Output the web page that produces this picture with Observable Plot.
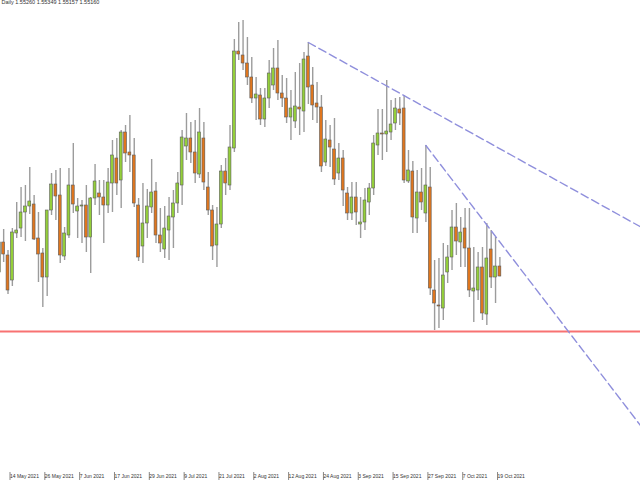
<!DOCTYPE html>
<html><head><meta charset="utf-8">
<script src="https://cdn.jsdelivr.net/npm/d3@7"></script>
<script src="https://cdn.jsdelivr.net/npm/@observablehq/plot@0.6"></script>
<style>
html,body{margin:0;padding:0;background:#fff;}
#chart{position:relative;width:640px;height:480px;overflow:hidden;}
#chart svg{display:block;}
</style></head><body><div id="chart"></div>
<script>
const headerText = "Daily 1.55260 1.55349 1.55157 1.55160";
const firstDay = "2021-05-12";
const open = [1.5520,1.5550,1.5537,1.5512,1.5559,1.5564,1.5580,1.5586,1.5588,1.5554,
1.5539,1.5515,1.5582,1.5608,1.5597,1.5536,1.5557,1.5607,1.5581,1.5586,
1.5587,1.5555,1.5594,1.5599,1.5595,1.5587,1.5609,1.5634,1.5612,1.5660,
1.5640,1.5637,1.5587,1.5546,1.5569,1.5585,1.5601,1.5557,1.5543,1.5562,
1.5575,1.5589,1.5607,1.5646,1.5654,1.5640,1.5618,1.5654,1.5605,1.5582,
1.5547,1.5568,1.5621,1.5607,1.5644,1.5741,1.5737,1.5729,1.5715,1.5694,
1.5697,1.5673,1.5694,1.5707,1.5724,1.5699,1.5694,1.5675,1.5671,1.5685,
1.5681,1.5736,1.5707,1.5689,1.5685,1.5630,1.5652,1.5643,1.5619,1.5634,
1.5599,1.5579,1.5595,1.5568,1.5570,1.5590,1.5604,1.5647,1.5659,1.5658,
1.5660,1.5669,1.5683,1.5684,1.5611,1.5621,1.5574,1.5600,1.5579,1.5605,
1.5502,1.5487,1.5484,1.5520,1.5535,1.5565,1.5550,1.5564,1.5544,1.5501,
1.5502,1.5525,1.5478,1.5543,1.5515,1.55260];
const high = [1.5580,1.5563,1.5542,1.5564,1.5590,1.5605,1.5607,1.5625,1.5597,1.5580,
1.5544,1.5582,1.5619,1.5622,1.5624,1.5565,1.5624,1.5649,1.5594,1.5592,
1.5607,1.5595,1.5628,1.5612,1.5612,1.5624,1.5652,1.5654,1.5662,1.5667,
1.5677,1.5654,1.5594,1.5609,1.5603,1.5633,1.5610,1.5584,1.5586,1.5595,
1.5602,1.5620,1.5662,1.5679,1.5670,1.5672,1.5684,1.5670,1.5620,1.5587,
1.5585,1.5627,1.5634,1.5667,1.5753,1.5770,1.5772,1.5755,1.5735,1.5715,
1.5704,1.5704,1.5732,1.5744,1.5752,1.5717,1.5714,1.5702,1.5720,1.5729,
1.5740,1.5750,1.5725,1.5710,1.5697,1.5672,1.5667,1.5674,1.5649,1.5642,
1.5605,1.5610,1.5610,1.5595,1.5604,1.5609,1.5657,1.5683,1.5683,1.5712,
1.5692,1.5694,1.5695,1.5697,1.5642,1.5631,1.5622,1.5624,1.5647,1.5625,
1.5532,1.5534,1.5549,1.5547,1.5582,1.5589,1.5575,1.5584,1.5584,1.5545,
1.5540,1.5545,1.5569,1.5562,1.5555,1.55349];
const low = [1.5509,1.5530,1.5498,1.5506,1.5554,1.5555,1.5551,1.5578,1.5552,1.5510,
1.5485,1.5496,1.5577,1.5572,1.5529,1.5532,1.5554,1.5579,1.5554,1.5549,
1.5540,1.5519,1.5587,1.5577,1.5549,1.5579,1.5580,1.5597,1.5584,1.5630,
1.5620,1.5585,1.5531,1.5529,1.5554,1.5579,1.5549,1.5540,1.5534,1.5532,
1.5544,1.5579,1.5587,1.5632,1.5629,1.5609,1.5614,1.5602,1.5577,1.5532,
1.5525,1.5564,1.5597,1.5602,1.5640,1.5732,1.5722,1.5707,1.5689,1.5672,
1.5667,1.5665,1.5684,1.5702,1.5692,1.5685,1.5669,1.5652,1.5664,1.5657,
1.5660,1.5688,1.5672,1.5669,1.5620,1.5626,1.5625,1.5607,1.5612,1.5586,
1.5572,1.5572,1.5567,1.5554,1.5562,1.5577,1.5597,1.5637,1.5632,1.5640,
1.5652,1.5662,1.5667,1.5609,1.5609,1.5559,1.5559,1.5582,1.5570,1.5497,
1.5462,1.5464,1.5472,1.5509,1.5522,1.5537,1.5525,1.5525,1.5495,1.5470,
1.5492,1.5472,1.5467,1.5504,1.5489,1.55157];
const close = [1.5550,1.5538,1.5502,1.5560,1.5562,1.5580,1.5586,1.5591,1.5553,1.5538,
1.5515,1.5582,1.5608,1.5596,1.5537,1.5559,1.5607,1.5588,1.5586,1.5587,
1.5555,1.5594,1.5611,1.5595,1.5587,1.5610,1.5637,1.5609,1.5660,1.5639,
1.5637,1.5589,1.5535,1.5569,1.5586,1.5600,1.5557,1.5549,1.5564,1.5576,
1.5589,1.5609,1.5655,1.5654,1.5640,1.5619,1.5660,1.5610,1.5582,1.5546,
1.5568,1.5621,1.5609,1.5645,1.5741,1.5738,1.5729,1.5715,1.5694,1.5698,
1.5673,1.5694,1.5719,1.5724,1.5699,1.5694,1.5675,1.5684,1.5686,1.5683,
1.5733,1.5705,1.5687,1.5685,1.5626,1.5653,1.5645,1.5613,1.5634,1.5602,
1.5579,1.5595,1.5580,1.5570,1.5592,1.5604,1.5649,1.5659,1.5658,1.5661,
1.5668,1.5684,1.5679,1.5612,1.5622,1.5575,1.5600,1.5590,1.5607,1.5504,
1.5489,1.5486,1.5517,1.5535,1.5565,1.5551,1.5560,1.5544,1.5502,1.5504,
1.5525,1.5479,1.5534,1.5515,1.5526,1.55160];
const tickLabels = ["14 May 2021","26 May 2021","7 Jun 2021","17 Jun 2021","29 Jun 2021","9 Jul 2021","21 Jul 2021","2 Aug 2021","12 Aug 2021","24 Aug 2021","3 Sep 2021","15 Sep 2021","27 Sep 2021","7 Oct 2021","19 Oct 2021"];
const supportLevel = 1.5461;
const trendA = [["2021-08-19", 1.5750], ["2021-12-06", 1.5564]];
const trendB = [["2021-09-27", 1.5647], ["2021-12-06", 1.5363]];

// trading calendar (weekdays only, as in the terminal's compressed time axis)
const days = [];
{
  let t = Date.parse(firstDay + "T00:00:00Z");
  while (days.length < 160) {
    const d = new Date(t);
    const w = d.getUTCDay();
    if (w !== 0 && w !== 6) days.push(d.toISOString().slice(0, 10));
    t += 86400000;
  }
}
const fmt = d3.utcFormat("%-d %b %Y");
const dayLabels = days.map(s => fmt(new Date(s + "T00:00:00Z")));
const idxOf = s => days.indexOf(s);
const candles = open.map((o, i) => ({i, open: o, high: high[i], low: low[i], close: close[i], up: close[i] >= o}));
const tickIdx = tickLabels.map(l => dayLabels.indexOf(l)).filter(i => i >= 0);

const chart = Plot.plot({
  width: 640, height: 480,
  marginTop: 0, marginRight: 0, marginBottom: 8, marginLeft: 0,
  x: {type: "linear", domain: [0.276, 147.3], label: null},
  y: {domain: [1.5320, 1.5792], axis: null, label: null},
  style: {background: "#fff", fontFamily: "'Liberation Sans', Arial, sans-serif"},
  marks: [
    Plot.ruleX(candles, {x: "i", y1: "low", y2: "high", stroke: "#9c9c9c", strokeWidth: 1.4, clip: true}),
    Plot.rect(candles, {x1: d => d.i - 0.33, x2: d => d.i + 0.33, y1: "open", y2: "close",
      fill: d => d.up ? "#94cf3a" : "#df761e", stroke: "#5c5c5c", strokeWidth: 0.6, clip: true}),
    Plot.ruleY([supportLevel], {stroke: "#f87272", strokeWidth: 2}),
    Plot.line(trendA, {x: d => idxOf(d[0]), y: d => d[1], stroke: "#8f8fdc", strokeWidth: 1.4, strokeDasharray: "8,4", clip: true}),
    Plot.line(trendB, {x: d => idxOf(d[0]), y: d => d[1], stroke: "#8f8fdc", strokeWidth: 1.4, strokeDasharray: "8,4", clip: true}),
    Plot.axisX(tickIdx, {anchor: "bottom", label: null, tickSize: 8, tickPadding: -6, textAnchor: "start", dx: 2,
      fontSize: 5, tickFormat: i => dayLabels[i], line: true, stroke: "#888", fill: "#333"}),
    Plot.text([headerText], {frameAnchor: "top-left", text: d => d, fontSize: 5.5, lineAnchor: "top", dx: 1, dy: 0, fill: "#333"})
  ]
});
document.getElementById("chart").appendChild(chart);
</script></body></html>
